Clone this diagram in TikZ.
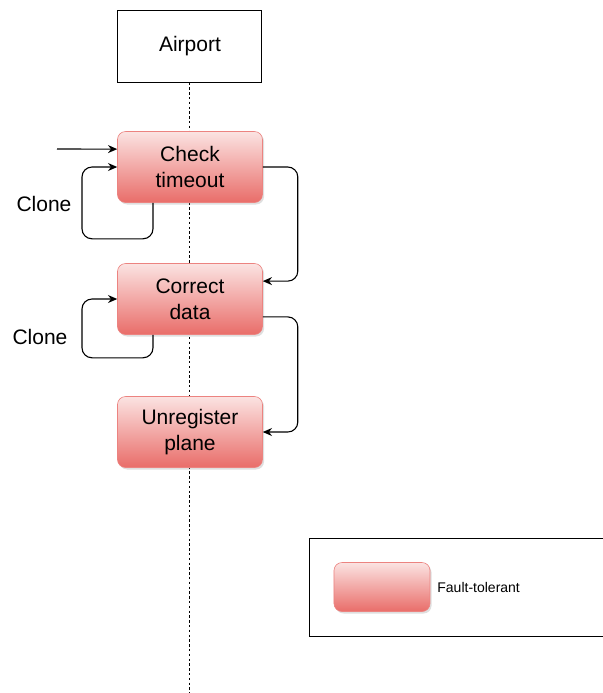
\documentclass[tikz,border=0pt]{standalone}
\usepackage{fontspec}
\setmainfont{Liberation Sans}
\usetikzlibrary{calc,arrows.meta,shadows}

\definecolor{rosetop}{HTML}{FBE3E2}
\definecolor{rosemid}{HTML}{F2A5A2}
\definecolor{rosebot}{HTML}{E96D69}

\begin{document}
\begin{tikzpicture}[x=0.5pt,y=-0.5pt,
  ftbox/.style={rounded corners=4pt,draw=rosebot!85,line width=0.3pt,
    top color=rosetop,middle color=rosemid,bottom color=rosebot,
    drop shadow={opacity=0.25,shadow xshift=0.8pt,shadow yshift=-1pt},
    minimum width=72.5pt,minimum height=35.5pt,align=center,
    font=\fontsize{10.5}{13}\selectfont},
  flow/.style={line width=0.55pt,-{Stealth[length=4.6pt,width=4pt]}},
  lbl/.style={font=\fontsize{10.5}{13}\selectfont}]

\useasboundingbox (0,0) rectangle (602,693);

\node[draw,line width=0.5pt,fill=white,minimum width=72pt,minimum height=36pt,
  font=\fontsize{10.5}{13}\selectfont] (airport) at (190,46) {Airport};
\coordinate (lifeend) at (190,693);
\draw[line width=0.5pt,dash pattern=on 1.2pt off 1.2pt] (airport.south) -- (lifeend);

\node[ftbox] (check) at (190,167) {Check\\timeout};
\node[ftbox] (correct) at (190,299) {Correct\\data};
\node[ftbox] (unreg) at (190,432) {Unregister\\plane};

\node[lbl] (clone1) at (44,204) {Clone};
\node[lbl] (clone2) at (40,337) {Clone};

\coordinate (src) at (57,149);
\draw[flow] (src) -- ($(check.north west)!0.25!(check.south west)$);

\draw[flow,rounded corners=5] ($(check.south)+(-37,0)$) -- ++(0,36) -- ++(-71,0) |- (check.west);
\draw[flow,rounded corners=5] ($(correct.south)+(-37,0)$) -- ++(0,23) -- ++(-71,0) |- (correct.west);

\draw[flow,rounded corners=5] (check.east) -- ++(35,0) |- ($(correct.north east)!0.25!(correct.south east)$);
\draw[flow,rounded corners=5] ($(correct.north east)!0.75!(correct.south east)$) -- ++(35,0) |- (unreg.east);

\draw[line width=0.5pt] (310,538) rectangle (606,636);
\node[ftbox,minimum width=48pt,minimum height=24.5pt] (swatch) at (382,587) {};
\node[anchor=west,inner sep=0pt,font=\fontsize{7}{8}\selectfont] (ftlabel) at (437,587) {Fault-tolerant};

\end{tikzpicture}
\end{document}
